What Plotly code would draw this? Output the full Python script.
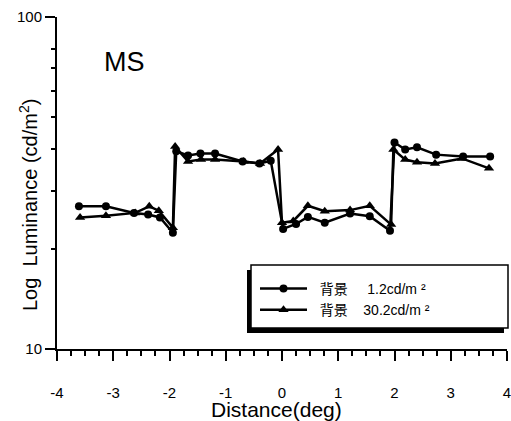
import plotly.graph_objects as go

# Distance (deg) and luminance (cd/m^2)
dist_low = [-3.61, -3.13, -2.63, -2.38, -2.17, -1.94,
            -1.88, -1.67, -1.45, -1.19, -0.70, -0.40, -0.20,
            0.02, 0.25, 0.46, 0.76, 1.21, 1.56, 1.92,
            2.00, 2.19, 2.40, 2.74, 3.22, 3.70]
lum_low = [26.9, 26.9, 25.7, 25.4, 24.9, 22.4,
           39.4, 38.3, 38.8, 38.8, 36.7, 36.2, 36.9,
           23.0, 23.8, 25.0, 24.0, 25.6, 25.1, 22.7,
           41.9, 39.9, 40.5, 38.5, 38.0, 38.0]

dist_high = [-3.59, -3.13, -2.61, -2.36, -2.19, -1.94,
             -1.90, -1.67, -1.44, -1.19, -0.68, -0.39, -0.07,
             0.00, 0.20, 0.46, 0.76, 1.21, 1.56, 1.94,
             1.98, 2.19, 2.40, 2.72, 3.20, 3.68]
lum_high = [24.9, 25.2, 25.7, 26.9, 26.1, 23.2,
            40.7, 36.7, 37.2, 37.2, 36.7, 36.2, 39.9,
            24.0, 24.3, 27.0, 26.0, 26.2, 27.0, 23.7,
            39.9, 37.2, 36.5, 36.2, 37.5, 35.0]

x_ticks = [-4, -3, -2, -1, 0, 1, 2, 3, 4]
y_ticks = [10, 100]
y_minor = [20, 30, 40, 50, 60, 70, 80]
series_names = ["  背景     1.2cd/m ²", "  背景    30.2cd/m ²"]

FONT = "Liberation Sans, Arial, Noto Sans CJK JP, sans-serif"

fig = go.Figure()
fig.add_trace(go.Scatter(
    x=dist_low, y=lum_low, mode="lines+markers", name=series_names[0],
    line=dict(color="black", width=2.5),
    marker=dict(symbol="circle", size=8, color="black"),
))
fig.add_trace(go.Scatter(
    x=dist_high, y=lum_high, mode="lines+markers", name=series_names[1],
    line=dict(color="black", width=2.5),
    marker=dict(symbol="triangle-up", size=9, color="black"),
))

# plot area at x 57-507, y 17-349 on screen
def px_x(p):
    return (p - 57) / 450.0

def px_y(p):
    return (349 - p) / 332.0

# legend frame with drop shadow
fig.add_shape(type="rect", xref="paper", yref="paper",
              x0=px_x(247), x1=px_x(504), y0=px_y(333), y1=px_y(270),
              fillcolor="black", line=dict(width=0), layer="above")
fig.add_shape(type="rect", xref="paper", yref="paper",
              x0=px_x(251), x1=px_x(508), y0=px_y(328), y1=px_y(265),
              fillcolor="white", line=dict(color="black", width=1.5), layer="above")

fig.add_annotation(text="MS", x=px_x(124), y=px_y(62), xref="paper", yref="paper",
                   xanchor="center", yanchor="middle", showarrow=False,
                   font=dict(size=27, color="black", family=FONT))
fig.add_annotation(text="Log  Luminance (cd/m<sup>2</sup>)", x=px_x(29), y=px_y(205),
                   xref="paper", yref="paper", textangle=-90, showarrow=False,
                   xanchor="center", yanchor="middle",
                   font=dict(size=20, color="black", family=FONT))
fig.add_annotation(text="Distance(deg)", x=px_x(276), y=px_y(409),
                   xref="paper", yref="paper", showarrow=False,
                   xanchor="center", yanchor="middle",
                   font=dict(size=21, color="black", family=FONT))

fig.update_layout(
    width=511, height=421,
    margin=dict(l=57, r=4, t=17, b=72, autoexpand=False),
    paper_bgcolor="white", plot_bgcolor="white",
    font=dict(family=FONT, color="black"),
    showlegend=True,
    legend=dict(x=px_x(255), y=px_y(273), xanchor="left", yanchor="top",
                bgcolor="rgba(0,0,0,0)", borderwidth=0,
                font=dict(size=14, color="black", family=FONT),
                itemwidth=47, tracegroupgap=0),
    xaxis=dict(range=[-4, 4], tickvals=x_ticks, ticktext=[str(v) for v in x_ticks],
               ticks="outside", ticklen=10, tickwidth=1.5, tickcolor="black",
               minor=dict(dtick=0.25, ticks="outside", ticklen=5, tickwidth=1.5, tickcolor="black"),
               showline=True, linewidth=2, linecolor="black", mirror=False,
               showgrid=False, zeroline=False, ticklabelstandoff=19,
               ticklabeloverflow="allow",
               tickfont=dict(size=15, color="black", family=FONT)),
    yaxis=dict(type="log", range=[1, 2], tickvals=y_ticks, ticktext=[str(v) for v in y_ticks],
               ticks="outside", ticklen=10, tickwidth=1.5, tickcolor="black",
               minor=dict(tickvals=y_minor, ticks="outside", ticklen=4, tickwidth=1.5, tickcolor="black"),
               showline=True, linewidth=2, linecolor="black",
               showgrid=False, zeroline=False,
               tickfont=dict(size=15, color="black", family=FONT)),
)

fig.write_html("out.html", config={"displayModeBar": False},
               post_script="document.body.style.margin='0';document.body.style.overflow='hidden';")
